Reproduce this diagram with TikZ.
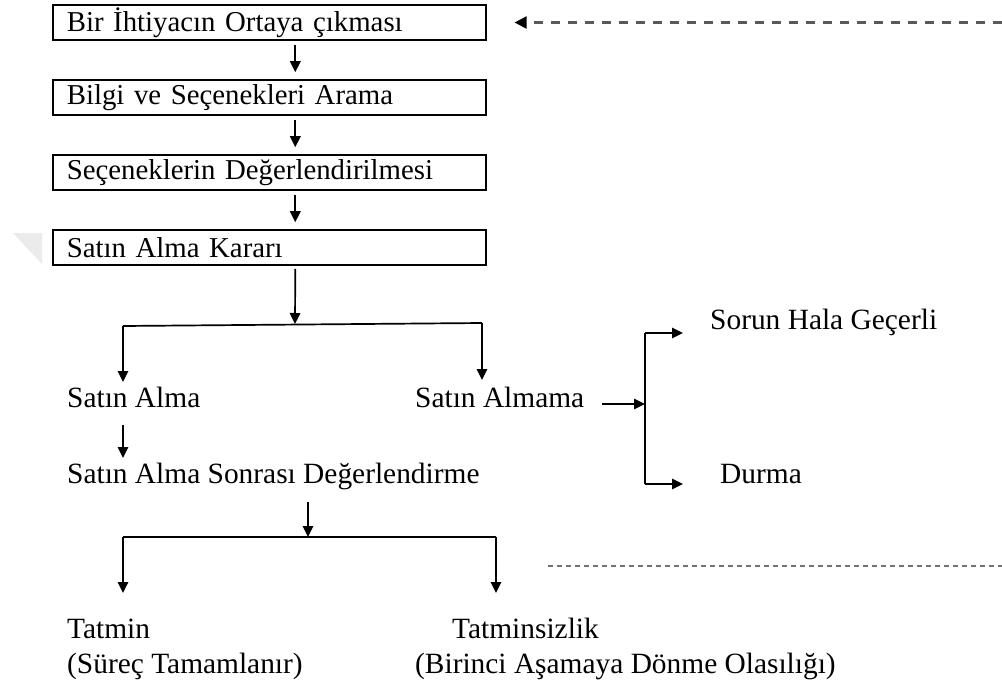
\documentclass[tikz,border=0pt]{standalone}
\usepackage{fontspec}
\setmainfont{Liberation Serif}
\usetikzlibrary{arrows.meta}
\tikzset{
  stagebox/.style={draw, line width=1.6pt, minimum height=35pt, text width=405pt, inner xsep=14pt, inner ysep=0pt, align=left, anchor=west, font=\fontsize{28.8}{32}\selectfont},
  lbl/.style={anchor=base west, inner sep=0pt, font=\fontsize{29.4}{34}\selectfont},
  arr/.style={line width=1.7pt, -{Triangle[length=11pt,width=10.5pt]}},
  ln/.style={line width=1.7pt},
  topdash/.style={line width=2.2pt, draw=black!65, dash pattern=on 9pt off 8pt, -{Triangle[length=12pt,width=12pt,color=black]}},
  botdash/.style={line width=1.4pt, draw=black!55, dash pattern=on 5pt off 4pt}
}
\begin{document}
\begin{tikzpicture}[x=1pt,y=-1pt]
\useasboundingbox (0,0) rectangle (1002,691);
\fill[black!8] (13,233) -- (42,233) -- (42,264) -- cycle;
% stage boxes
\node[stagebox] (b1) at (52,22.5) {Bir İhtiyacın Ortaya çıkması};
\node[stagebox] (b2) at (52,97.5) {Bilgi ve Seçenekleri Arama};
\node[stagebox] (b3) at (52,172.5) {Seçeneklerin Değerlendirilmesi};
\node[stagebox] (b4) at (52,247.5) {Satın Alma Kararı};
\draw[arr] ([xshift=26pt,yshift=-4pt]b1.south) -- ([xshift=26pt,yshift=7pt]b2.north);
\draw[arr] ([xshift=26pt,yshift=-4pt]b2.south) -- ([xshift=26pt,yshift=7pt]b3.north);
\draw[arr] ([xshift=26pt,yshift=-4pt]b3.south) -- ([xshift=26pt,yshift=7pt]b4.north);
% labels
\node[lbl] (sa) at (67,407) {Satın Alma};
\node[lbl] (sam) at (415,407) {Satın Almama};
\node[lbl] (shg) at (710,329) {Sorun Hala Geçerli};
\node[lbl] (dur) at (720,483) {Durma};
\node[lbl] (sasd) at (67,483) {Satın Alma Sonrası Değerlendirme};
\node[lbl] (tat) at (67,638) {Tatmin};
\node[lbl] (tat2) at (67,673) {(Süreç Tamamlanır)};
\node[lbl] (tms) at (452,638) {Tatminsizlik};
\node[lbl] (tms2) at (415,673) {(Birinci Aşamaya Dönme Olasılığı)};
% coordinates
\coordinate (j1) at (295,324);
\coordinate (jl) at (123,326);
\coordinate (jr) at (482,323);
\coordinate (sat) at (123,382);
\coordinate (samt) at (482,380);
\coordinate (samr) at (602,404);
\coordinate (v) at (645,404);
\coordinate (vt) at (645,333);
\coordinate (vb) at (645,484);
\coordinate (sht) at (683,333);
\coordinate (dut) at (683,484);
\coordinate (sab) at (123,425);
\coordinate (sasdt) at (123,458);
\coordinate (j2s) at (308,502);
\coordinate (j2) at (308,537);
\coordinate (kl) at (123,537);
\coordinate (kr) at (496,537);
\coordinate (tt) at (123,593);
\coordinate (tst) at (496,593);
% connectors
\draw[arr] ([xshift=26pt,yshift=-3pt]b4.south) -- (j1);
\draw[ln] (jl) -- (jr);
\draw[arr] (jl) -- (sat);
\draw[arr] (jr) -- (samt);
\draw[arr] (samr) -- (v);
\draw[ln] (vt) -- (vb);
\draw[arr] (vt) -- (sht);
\draw[arr] (vb) -- (dut);
\draw[arr] (sab) -- (sasdt);
\draw[arr] (j2s) -- (j2);
\draw[ln] (kl) -- (kr);
\draw[arr] (kl) -- (tt);
\draw[arr] (kr) -- (tst);
% dashed feedback lines
\coordinate (dtop) at (1002,22.5);
\draw[topdash] (dtop) -- ([xshift=28pt]b1.east);
\draw[botdash] (548,566) -- (1002,566);
\end{tikzpicture}
\end{document}
